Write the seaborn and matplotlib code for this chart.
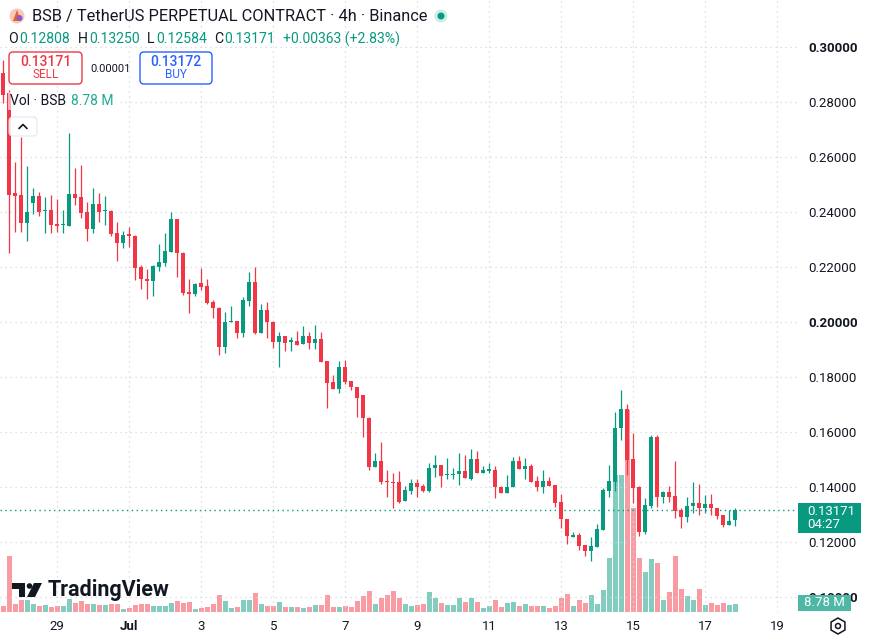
import numpy as np
import pandas as pd
import matplotlib
matplotlib.use("Agg")
import matplotlib.pyplot as plt
import seaborn as sns
from matplotlib.patches import FancyBboxPatch, Rectangle, Polygon, Circle, RegularPolygon
from matplotlib.lines import Line2D

# ---------------- data (BSB/USDT perpetual, 4h candles) ----------------
start_time = "2025-06-27 12:00"

opens = [
    .2905, .2833, .2469, .2462, .2360, .2433, .2458, .2404, .2407, .2356,
    .2351, .2349, .2465, .2455, .2400, .2338, .2429, .2402, .2404, .2324,
    .2287, .2320, .2313, .2200, .2156, .2149, .2200, .2215, .2255, .2375,
    .2251, .2109, .2102, .2142, .2131, .2073, .2051, .1909, .2000, .2004,
    .1960, .2076, .2145, .1960, .2044, .2000, .1927, .1949, .1929, .1931,
    .1920, .1949, .1924, .1938, .1858, .1782, .1756, .1836, .1785, .1764,
    .1735, .1651, .1473, .1495, .1422, .1418, .1418, .1349, .1385, .1415,
    .1404, .1385, .1469, .1480, .1442, .1444, .1447, .1458, .1429, .1502,
    .1451, .1460, .1462, .1400, .1378, .1400, .1495, .1465, .1476, .1422,
    .1400, .1422, .1407, .1345, .1284, .1220, .1225, .1189, .1167, .1182,
    .1244, .1385, .1418, .1615, .1684, .1502, .1400, .1236, .1331, .1582,
    .1364, .1382, .1367, .1316, .1291, .1331, .1342, .1324, .1338, .1324,
    .1298, .1262, .12808]
highs = [
    .2953, .2845, .2582, .2673, .2567, .2487, .2473, .2455, .2462, .2447,
    .2407, .2687, .2560, .2571, .2436, .2487, .2469, .2458, .2407, .2364,
    .2331, .2345, .2316, .2207, .2193, .2207, .2284, .2324, .2400, .2375,
    .2255, .2156, .2142, .2196, .2156, .2080, .2055, .2036, .2058, .2004,
    .2091, .2182, .2200, .2065, .2073, .2004, .1964, .1949, .1945, .1967,
    .1985, .1964, .1989, .1964, .1858, .1807, .1858, .1862, .1785, .1764,
    .1735, .1655, .1524, .1564, .1462, .1451, .1458, .1404, .1429, .1429,
    .1411, .1487, .1516, .1480, .1505, .1469, .1524, .1516, .1538, .1531,
    .1476, .1487, .1476, .1404, .1444, .1509, .1513, .1505, .1484, .1440,
    .1462, .1436, .1407, .1375, .1284, .1236, .1233, .1189, .1218, .1265,
    .1396, .1480, .1673, .1753, .1702, .1596, .1404, .1360, .1589, .1589,
    .1385, .1404, .1495, .1324, .1364, .1418, .1411, .1371, .1374, .1324,
    .1298, .1316, .13250]
lows = [
    .2796, .2251, .2327, .2327, .2295, .2393, .2385, .2324, .2324, .2327,
    .2324, .2349, .2425, .2378, .2295, .2324, .2364, .2353, .2313, .2222,
    .2269, .2273, .2153, .2120, .2084, .2095, .2185, .2204, .2255, .2164,
    .2098, .2033, .2095, .2116, .2065, .2015, .1880, .1887, .2000, .1942,
    .1945, .2058, .1956, .1960, .1942, .1905, .1836, .1895, .1895, .1916,
    .1920, .1902, .1902, .1855, .1687, .1756, .1742, .1775, .1753, .1655,
    .1582, .1462, .1473, .1411, .1364, .1324, .1342, .1349, .1375, .1364,
    .1382, .1382, .1436, .1400, .1429, .1429, .1407, .1433, .1425, .1451,
    .1451, .1451, .1360, .1378, .1378, .1400, .1465, .1429, .1418, .1385,
    .1378, .1404, .1327, .1251, .1193, .1218, .1171, .1149, .1131, .1182,
    .1244, .1364, .1385, .1571, .1444, .1342, .1222, .1229, .1324, .1327,
    .1342, .1345, .1287, .1251, .1273, .1305, .1298, .1305, .1298, .1284,
    .1255, .1262, .12584]
closes = [
    .2825, .2462, .2458, .2360, .2400, .2458, .2400, .2407, .2353, .2349,
    .2355, .2465, .2451, .2396, .2338, .2429, .2400, .2404, .2320, .2287,
    .2316, .2313, .2196, .2156, .2149, .2204, .2218, .2258, .2375, .2251,
    .2105, .2102, .2138, .2127, .2069, .2051, .1909, .2000, .2004, .1960,
    .2080, .2145, .1960, .2044, .2000, .1927, .1949, .1924, .1931, .1916,
    .1949, .1924, .1938, .1855, .1778, .1756, .1836, .1782, .1764, .1724,
    .1651, .1473, .1495, .1418, .1418, .1415, .1345, .1389, .1415, .1400,
    .1385, .1469, .1480, .1440, .1444, .1447, .1458, .1433, .1502, .1451,
    .1462, .1462, .1400, .1378, .1400, .1495, .1465, .1476, .1418, .1400,
    .1422, .1404, .1342, .1284, .1222, .1222, .1185, .1167, .1185, .1247,
    .1389, .1422, .1615, .1684, .1498, .1396, .1236, .1335, .1582, .1364,
    .1382, .1364, .1313, .1291, .1331, .1342, .1324, .1338, .1324, .1295,
    .1262, .1276, .13171]
volumes_m = [
    7.0, 65.5, 9.4, 14.0, 14.0, 9.4, 7.0, 8.2, 5.9, 7.0,
    7.0, 15.2, 10.5, 12.9, 9.4, 9.4, 8.2, 8.2, 9.4, 9.4,
    3.5, 4.7, 8.2, 9.4, 9.4, 7.0, 7.0, 7.0, 10.5, 12.9,
    10.5, 11.7, 3.5, 4.7, 5.9, 9.4, 19.9, 12.9, 4.7, 5.9,
    14.0, 14.0, 22.2, 9.4, 7.0, 7.0, 11.7, 5.9, 5.9, 5.9,
    4.7, 5.9, 8.2, 8.2, 19.9, 5.9, 5.9, 7.0, 5.9, 12.9,
    18.7, 24.6, 9.4, 16.4, 19.9, 24.6, 16.4, 9.4, 7.0, 8.2,
    9.4, 23.4, 16.4, 10.5, 8.2, 8.2, 16.4, 11.7, 16.4, 11.7,
    4.7, 7.0, 14.0, 5.9, 10.5, 11.7, 7.0, 9.4, 7.0, 7.0,
    7.0, 4.7, 7.0, 16.4, 21.1, 7.0, 14.0, 10.5, 19.9, 9.4,
    25.7, 63.2, 160.0, 160.0, 236.3, 121.7, 63.2, 46.8, 62.0, 57.3,
    14.0, 23.4, 65.5, 26.9, 18.7, 14.0, 26.9, 8.2, 10.5, 8.2,
    10.5, 8.2, 8.78]

date_ticks = ["2025-06-29", "2025-07-01", "2025-07-03", "2025-07-05", "2025-07-07",
              "2025-07-09", "2025-07-11", "2025-07-13", "2025-07-15", "2025-07-17",
              "2025-07-19"]
date_labels = ["29", "Jul", "3", "5", "7", "9", "11", "13", "15", "17", "19"]
price_ticks = [0.10, 0.12, 0.14, 0.16, 0.18, 0.20, 0.22, 0.24, 0.26, 0.28, 0.30]

# ---------------- style ----------------
sns.set_theme(style="white")
plt.rcParams["font.family"] = ["Roboto", "DejaVu Sans"]

UP = "#089981"
DOWN = "#F23645"
UP_VOL = "#83ccc0"
DOWN_VOL = "#f89ba2"
TXT = "#131722"

O = np.array(opens); Hh = np.array(highs); L = np.array(lows); C = np.array(closes)
n = len(O)
idx = np.arange(n)
up = C >= O
cols = np.where(up, UP, DOWN)

start = pd.Timestamp(start_time)
tick_pos = (pd.to_datetime(date_ticks) - start) / pd.Timedelta(hours=4)

W, H = 874, 639
fig = plt.figure(figsize=(W / 100, H / 100), dpi=100, facecolor="white")
rect = [0, 27 / H, 797 / W, 612 / H]
axv = fig.add_axes(rect, zorder=0)
ax = fig.add_axes(rect, zorder=1)
ax.patch.set_alpha(0)

xlim = (-0.55, 132.28)
ylim = (0.09455, 0.31709)

# volume bars (seaborn)
df = pd.DataFrame({"idx": idx, "vol": volumes_m, "dir": np.where(up, "up", "down")})
sns.barplot(data=df, x="idx", y="vol", hue="dir", palette={"up": UP_VOL, "down": DOWN_VOL},
            native_scale=True, dodge=False, width=0.84, saturation=1, errorbar=None,
            legend=False, linewidth=0, ax=axv)
axv.set_xlim(*xlim)
axv.set_ylim(0, 612 * 1.17)
axv.axis("off")

# candles
ax.vlines(idx, L, Hh, colors=cols, linewidth=0.9, zorder=3)
body_bot = np.minimum(O, C)
body_h = np.maximum(np.abs(C - O), 0.0005)
ax.bar(idx, body_h, bottom=body_bot, width=0.68, color=cols, linewidth=0, zorder=4)

# last price line
ax.axhline(C[-1], color=UP, linestyle=(0, (1, 2.5)), linewidth=1.0, zorder=2)

ax.set_xlim(*xlim)
ax.set_ylim(*ylim)
for s in ax.spines.values():
    s.set_visible(False)
ax.set_xticks(tick_pos)
ax.set_xticklabels(date_labels)
ax.set_yticks(price_ticks)
ax.set_yticklabels([f"{p:.5f}" for p in price_ticks])
ax.yaxis.tick_right()
ax.tick_params(axis="y", length=0, pad=8, labelsize=9.5, labelcolor=TXT)
ax.tick_params(axis="x", length=0, pad=6, labelsize=9.5, labelcolor=TXT)
for lab, p in zip(ax.get_yticklabels(), price_ticks):
    if abs(round(p * 10) - p * 10) < 1e-9:
        lab.set_fontweight("bold")
for lab in ax.get_xticklabels():
    if lab.get_text() == "Jul":
        lab.set_fontweight("bold")
ax.grid(True, color="#d3d6dc", linestyle=(0, (1, 3)), linewidth=0.9, zorder=0)
ax.set_axisbelow(True)

# ---------------- overlays (pixel coordinates) ----------------
T = fig.dpi_scale_trans

def P(x, y):
    return (x / 100, (H - y) / 100)

def text(x, y, s, **kw):
    kw.setdefault("transform", T)
    kw.setdefault("va", "center")
    kw.setdefault("color", TXT)
    kw.setdefault("zorder", 20)
    fig.text(*P(x, y), s, **kw)

def box(x0, y0, x1, y1, fc, ec="none", lw=1.0, r=0.04, alpha=1.0, z=5):
    p = FancyBboxPatch(P(x0, y1), (x1 - x0) / 100, (y1 - y0) / 100,
                       boxstyle=f"round,pad=0,rounding_size={r}", transform=T,
                       fc=fc, ec=ec, lw=lw, alpha=alpha, zorder=z)
    fig.patches.append(p)

# symbol logo
fig.patches.append(Circle(P(17, 16), 0.075, transform=T, fc="#f6c9b8", ec="none", zorder=5))
fig.patches.append(Polygon([P(13, 21), P(17, 10), P(21, 21)], closed=True, transform=T,
                           fc="#e8602c", ec="none", zorder=6))
fig.patches.append(Circle(P(19.5, 18), 0.03, transform=T, fc="#8a5cc7", ec="none", zorder=7))

text(32, 16, "BSB / TetherUS PERPETUAL CONTRACT · 4h · Binance", fontsize=11.8)
fig.patches.append(Circle(P(441, 16), 0.065, transform=T, fc="#cdeee7", ec="none", zorder=5))
fig.patches.append(Circle(P(441, 16), 0.035, transform=T, fc=UP, ec="none", zorder=6))

# OHLC row
ohlc = [(8, "O", TXT), (19, "0.12808", UP), (78, "H", TXT), (89, "0.13250", UP),
        (147, "L", TXT), (156, "0.12584", UP), (214, "C", TXT), (224, "0.13171", UP),
        (283, "+0.00363 (+2.83%)", UP)]
for x, s, c in ohlc:
    text(x, 39, s, fontsize=10.1, color=c)

# sell / buy
box(9, 52, 82, 84, fc="white", ec=DOWN, lw=1.0)
text(45.5, 61.5, "0.13171", fontsize=10, color=DOWN, ha="center", fontweight="medium")
text(45.5, 75, "SELL", fontsize=8.5, color=DOWN, ha="center")
text(111, 69, "0.00001", fontsize=8, ha="center")
box(140, 52, 212, 84, fc="white", ec="#2962ff", lw=1.0)
text(176, 61.5, "0.13172", fontsize=10, color="#2962ff", ha="center", fontweight="medium")
text(176, 75, "BUY", fontsize=8.5, color="#2962ff", ha="center")

# volume legend
fig.patches.append(Rectangle(P(8, 110), 1.1, 0.18, transform=T, fc="white", alpha=0.6,
                             ec="none", zorder=4))
text(10, 101, "Vol · BSB", fontsize=10)
text(71, 101, "8.78 M", fontsize=10, color="#22ab94")
box(9, 117, 37, 136, fc="white", ec="#e0e3eb", lw=0.8, alpha=0.85)
fig.lines.append(Line2D([P(19, 128.5)[0], P(23, 124.5)[0], P(27, 128.5)[0]],
                        [P(19, 128.5)[1], P(23, 124.5)[1], P(27, 128.5)[1]],
                        transform=T, color=TXT, lw=1.2, zorder=7))

# last price label
fig.patches.append(Rectangle(P(798, 533), 0.63, 0.30, transform=T, fc=UP, ec="none", zorder=5))
text(807, 511.5, f"{C[-1]:.5f}", fontsize=9.5, color="white")
text(807, 525, "04:27", fontsize=9.5, color="white")
# volume label
fig.patches.append(Rectangle(P(798, 611), 0.53, 0.16, transform=T, fc="#4fb7a5", ec="none", zorder=5))
text(804, 603, f"{volumes_m[-1]:.2f} M", fontsize=9.5, color="white")

# settings icon
fig.patches.append(RegularPolygon(P(838, 626), 6, radius=0.08, orientation=0, transform=T,
                                  fc="none", ec=TXT, lw=1.1, zorder=5))
fig.patches.append(Circle(P(838, 626), 0.025, transform=T, fc="none", ec=TXT, lw=1.1, zorder=5))

# TradingView logo
fig.patches.append(Polygon([P(12, 583), P(25, 583), P(25, 597), P(19, 597), P(19, 589), P(12, 589)],
                           closed=True, transform=T, fc=TXT, ec="none", zorder=5))
fig.patches.append(Circle(P(29.5, 586), 0.028, transform=T, fc=TXT, ec="none", zorder=5))
fig.patches.append(Polygon([P(34, 583), P(42, 583), P(35, 597), P(27, 597)],
                           closed=True, transform=T, fc=TXT, ec="none", zorder=5))
text(48, 590, "TradingView", fontsize=15.5, fontweight="bold")

fig.savefig("out.png", dpi=100, facecolor="white")
